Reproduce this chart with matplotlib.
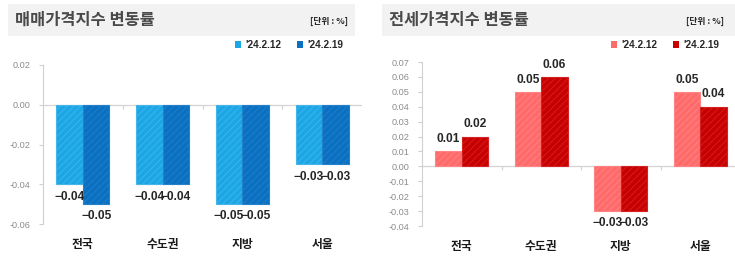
import matplotlib.pyplot as plt
import numpy as np
from matplotlib.patches import Rectangle, Patch

plt.rcParams['font.family'] = ['Noto Sans CJK KR', 'DejaVu Sans']
plt.rcParams['hatch.linewidth'] = 0.6

# data
regions = ['전국', '수도권', '지방', '서울']
series = ["'24.2.12", "'24.2.19"]
sale_0212 = [-0.04, -0.04, -0.05, -0.03]
sale_0219 = [-0.05, -0.04, -0.05, -0.03]
jeonse_0212 = [0.01, 0.05, -0.03, 0.05]
jeonse_0219 = [0.02, 0.06, -0.03, 0.04]
sale_ticks = [0.02, 0.00, -0.02, -0.04, -0.06]
jeonse_ticks = [0.07, 0.06, 0.05, 0.04, 0.03, 0.02, 0.01, 0.00, -0.01, -0.02, -0.03, -0.04]

num_font = ['Liberation Sans', 'DejaVu Sans']
W, H = 735, 267
fig = plt.figure(figsize=(W / 100, H / 100), dpi=100)


def px(x0, y0, x1, y1):
    return [x0 / W, 1 - y1 / H, (x1 - x0) / W, (y1 - y0) / H]


def fmt(v):
    s = f'{abs(v):.2f}'
    return ('\u2212' + s) if v < 0 else s


def draw_panel(rect, v1, v2, c1, c2, e1, e2, ticks, ylim):
    ax = fig.add_axes(rect)
    x = np.arange(len(regions))
    w = 1 / 3
    for vals, off, fc, ec in [(v1, -w / 2, c1, e1), (v2, w / 2, c2, e2)]:
        bars = ax.bar(x + off, vals, w, color=fc, edgecolor=ec, hatch='/////', linewidth=0.8, zorder=2)
        for b, v in zip(bars, vals):
            ax.annotate(fmt(v), (b.get_x() + b.get_width() / 2, v),
                        xytext=(0, 4.5 if v >= 0 else -4.5), textcoords='offset points',
                        ha='center', va='bottom' if v >= 0 else 'top',
                        fontsize=8.6, fontweight='bold', family=num_font, color='#262626', zorder=5)
    ax.axhline(0, color='#d4d4d4', lw=0.9, zorder=1)
    tick_len = (ylim[1] - ylim[0]) * 0.025
    ax.vlines([0.5, 1.5, 2.5], -tick_len, 0, color='#d4d4d4', lw=0.9)
    ax.set_xlim(-0.5, 3.5)
    ax.set_ylim(*ylim)
    ax.set_yticks(ticks)
    ax.set_yticklabels([f'{t:.2f}' for t in ticks], family=['Liberation Sans', 'DejaVu Sans'])
    ax.set_xticks(x)
    ax.set_xticklabels(regions, fontsize=8.5, fontweight='bold', color='#1a1a1a')
    for s in ['top', 'right', 'bottom']:
        ax.spines[s].set_visible(False)
    ax.spines['left'].set_color('#d0d0d0')
    ax.tick_params(axis='y', length=3, color='#d0d0d0', labelcolor='#8c8c8c', labelsize=6.6, pad=6)
    ax.tick_params(axis='x', length=0, pad=10)
    ax.patch.set_alpha(0)
    return ax


ax1 = draw_panel(px(43, 65, 362, 224), sale_0212, sale_0219, '#1ba6e5', '#0a71c2', '#45b6ea', '#2480c8',
                 sale_ticks, (-0.06, 0.02))
ax2 = draw_panel(px(422, 62, 740, 226), jeonse_0212, jeonse_0219, '#ff6b6b', '#c80000', '#ff8585', '#d42222',
                 jeonse_ticks, (-0.04, 0.07))

# title bars
for (x0, x1, title, legend_right, c1, c2) in [(8, 355, '매매가격지수 변동률', 348, '#1ba6e5', '#0a71c2'),
                                              (382, 735, '전세가격지수 변동률', 724, '#ff6b6b', '#c80000')]:
    fig.patches.append(Rectangle((x0 / W, 1 - 36 / H), (x1 - x0) / W, 32 / H,
                                 transform=fig.transFigure, facecolor='#f2f2f2', edgecolor='none', zorder=0))
    fig.text((x0 + 7) / W, 1 - 20 / H, title, fontsize=11.8, fontweight='bold', color='#4a4a4a', va='center')
    fig.text(legend_right / W, 1 - 21 / H, '[단위 : %]', fontsize=6.3, fontweight='bold', color='#262626',
             va='center', ha='right')
    handles = [Patch(facecolor=c1, edgecolor='none'), Patch(facecolor=c2, edgecolor='none')]
    fig.legend(handles, series, loc='center right', bbox_to_anchor=((legend_right + 4) / W, 1 - 45 / H),
               ncol=2, frameon=False, handlelength=0.6, handleheight=0.6, handletextpad=0.4,
               columnspacing=1.6, prop={'family': num_font, 'size': 7.2, 'weight': 'bold'}, labelcolor='#262626')

fig.savefig('out.png', dpi=100)
